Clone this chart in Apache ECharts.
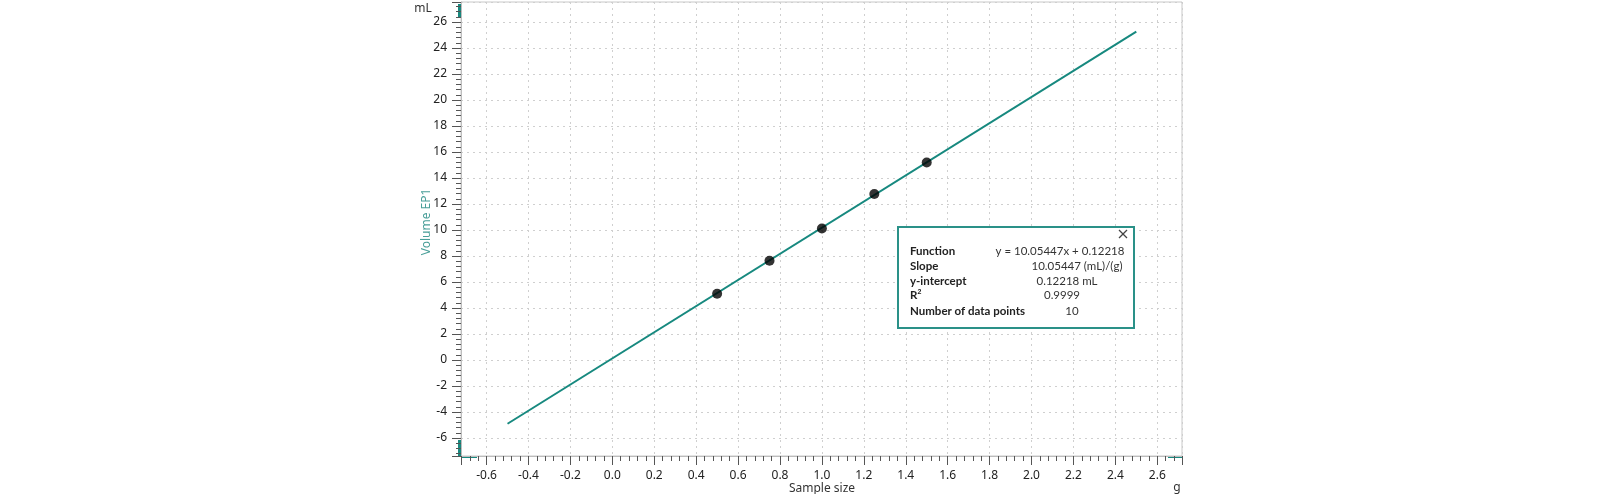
<!DOCTYPE html>
<html>
<head>
<meta charset="utf-8">
<script src="https://cdn.jsdelivr.net/npm/echarts@6/dist/echarts.min.js"></script>
<style>
  html, body { margin: 0; padding: 0; background: #fff; }
  #chart { width: 1600px; height: 494px; }
</style>
</head>
<body>
<div id="chart"></div>
<script>
// sample points (g, mL)
var sampleX = [0.5, 0.75, 1.0, 1.25, 1.5];
var volumeY = [5.1, 7.64, 10.12, 12.77, 15.2];
// regression line end points
var fitX = [-0.5, 2.5];
var fitY = [-4.9, 25.26];
// axis ranges
var xRange = [-0.722, 2.718];
var yRange = [-7.38, 27.54];
// result box rows
var boxLabels = ['Function', 'Slope', 'y-intercept', 'R{sup|2}', 'Number of data points'];
var boxValues = ['y = 10.05447x + 0.12218', '10.05447 (mL)/(g)', '0.12218 mL', '0.9999', '10'];

var teal = '#17897f';
var chart = echarts.init(document.getElementById('chart'));

var points = sampleX.map(function (x, i) { return [x, volumeY[i]]; });
var fitLine = fitX.map(function (x, i) { return [x, fitY[i]]; });

var G = { left: 461, top: 2, width: 721, height: 454 };

var boxX = 898, boxY = 227, boxW = 236, boxH = 101;
var rowY = [251, 266, 281, 295, 311];
var valX = [1060, 1077, 1067, 1062, 1072];

var graphics = [];
// axis handles (decoration)
graphics.push({ type: 'rect', shape: { x: G.left - 3, y: G.top + 2, width: 3, height: 14 }, style: { fill: teal } });
graphics.push({ type: 'rect', shape: { x: G.left - 3, y: G.top + G.height - 16, width: 3, height: 17 }, style: { fill: teal } });
graphics.push({ type: 'rect', shape: { x: G.left, y: G.top + G.height, width: 16, height: 2 }, style: { fill: teal } });
graphics.push({ type: 'rect', shape: { x: G.left + G.width - 14, y: G.top + G.height, width: 14, height: 2 }, style: { fill: teal } });

// axis titles
graphics.push({ type: 'text', x: 423, y: 9, style: { text: 'mL', font: '12px "Noto Sans"', fill: '#333', align: 'center', verticalAlign: 'middle' } });
graphics.push({ type: 'text', x: 427, y: 222, rotation: Math.PI / 2, style: { text: 'Volume EP1', font: '12px "Noto Sans"', fill: '#4a9f99', align: 'center', verticalAlign: 'middle' } });
graphics.push({ type: 'text', x: 822, y: 489, style: { text: 'Sample size', font: '12px "Noto Sans"', fill: '#333', align: 'center', verticalAlign: 'middle' } });
graphics.push({ type: 'text', x: 1177, y: 488, style: { text: 'g', font: '12px "Noto Sans"', fill: '#333', align: 'center', verticalAlign: 'middle' } });

// result box
graphics.push({ type: 'rect', z: 10, shape: { x: boxX, y: boxY, width: boxW, height: boxH }, style: { fill: '#fff', stroke: '#2a9188', lineWidth: 2 } });
graphics.push({ type: 'line', z: 11, shape: { x1: 1119, y1: 230, x2: 1127, y2: 238 }, style: { stroke: '#444', lineWidth: 1.2 } });
graphics.push({ type: 'line', z: 11, shape: { x1: 1119, y1: 238, x2: 1127, y2: 230 }, style: { stroke: '#444', lineWidth: 1.2 } });
boxLabels.forEach(function (t, i) {
  graphics.push({
    type: 'text', z: 11, x: 910, y: rowY[i],
    style: {
      text: t, font: 'bold 11.5px Lato', fill: '#222', verticalAlign: 'middle',
      rich: { sup: { fontSize: 7, fontWeight: 'bold', verticalAlign: 'top', padding: [0, 0, 6, 0] } }
    }
  });
  graphics.push({
    type: 'text', z: 11, x: valX[i], y: rowY[i],
    style: { text: boxValues[i], font: '11.5px Lato', fill: '#333', align: 'center', verticalAlign: 'middle' }
  });
});

var axisCommon = {
  type: 'value',
  splitNumber: 17,
  axisLine: { show: true, onZero: false, lineStyle: { color: '#bdbdbd', width: 1 } },
  axisTick: { show: true, length: 9, lineStyle: { color: '#555' } },
  minorTick: { show: true, splitNumber: 5, length: 5, lineStyle: { color: '#555' } },
  splitLine: { show: true, lineStyle: { color: '#cfcfcf', type: [2, 4] } },
  axisLabel: { fontSize: 12, fontFamily: 'Noto Sans', color: '#222', showMinLabel: false, showMaxLabel: false }
};

var option = {
  animation: false,
  grid: { left: G.left, top: G.top, width: G.width, height: G.height, show: true, borderColor: '#c8c8c8', borderWidth: 1 },
  xAxis: echarts.util.merge({
    min: xRange[0], max: xRange[1],
    axisLabel: {
      margin: 14,
      formatter: function (v) { return v.toFixed(1); }
    }
  }, axisCommon),
  yAxis: echarts.util.merge({
    min: yRange[0], max: yRange[1],
    axisLabel: { margin: 14 }
  }, axisCommon),
  series: [
    {
      type: 'line',
      data: fitLine,
      symbol: 'none',
      lineStyle: { color: teal, width: 2 },
      z: 2
    },
    {
      type: 'scatter',
      data: points,
      symbolSize: 10,
      itemStyle: { color: '#000' },
      z: 3
    }
  ],
  graphic: graphics
};
chart.setOption(option);
</script>
</body>
</html>
